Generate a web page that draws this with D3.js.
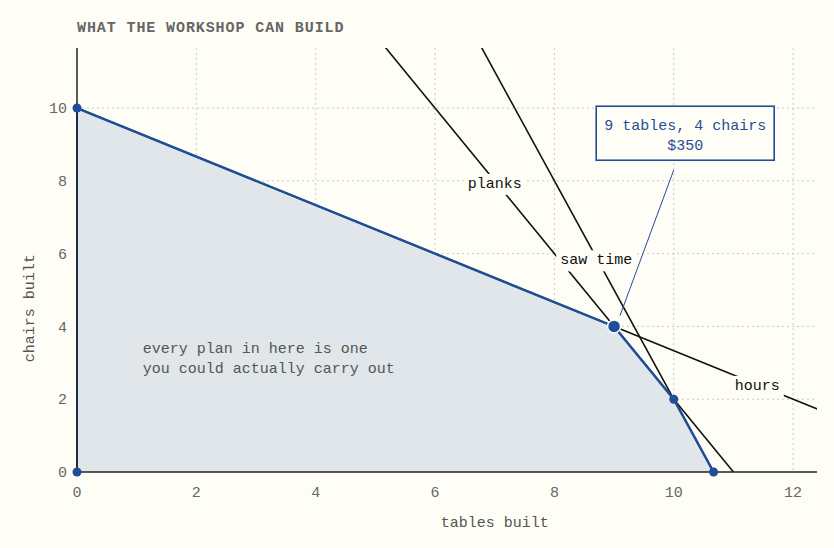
<!DOCTYPE html>
<html lang="en">
<head>
<meta charset="UTF-8">
<script src="https://d3js.org/d3.v7.min.js"></script>
<style>
  body { margin: 0; background: #fffef6; }
  svg { font-family: "Liberation Mono", "DejaVu Sans Mono", monospace; }
</style>
</head>
<body>
<svg width="834" height="548"></svg>
<script>
// feasible region corners
const regionX = [0, 0, 9, 10, 10.667];
const regionY = [0, 10, 4, 2, 0];
// constraint lines: a*x + b*y = c
const constraintNames = ["planks", "saw time", "hours"];
const constraintA = [2, 3, 2];
const constraintB = [1, 1, 3];
const constraintC = [22, 32, 30];
const labelX = [7.0, 8.7, 11.4];
const labelY = [7.95, 5.85, 2.4];
const xTicks = [0, 2, 4, 6, 8, 10, 12];
const yTicks = [0, 2, 4, 6, 8, 10];

const margin = { top: 48, right: 17, bottom: 76, left: 77 };
const width = 834 - margin.left - margin.right;
const height = 548 - margin.top - margin.bottom;
const blue = "#1f4e99";
const fs = 15;

const svg = d3.select("svg");
const g = svg.append("g").attr("transform", `translate(${margin.left},${margin.top})`);
const x = d3.scaleLinear().domain([0, 12.4]).range([0, width]);
const y = d3.scaleLinear().domain([0, 11.65]).range([height, 0]);

svg.append("defs").append("clipPath").attr("id", "clip")
  .append("rect").attr("width", width).attr("height", height);

// grid
g.selectAll(".gx").data(xTicks.slice(1)).join("line")
  .attr("x1", d => x(d)).attr("x2", d => x(d)).attr("y1", 0).attr("y2", height)
  .attr("stroke", "#c8c8c8").attr("stroke-dasharray", "2,3");
g.selectAll(".gy").data(yTicks.slice(1)).join("line")
  .attr("y1", d => y(d)).attr("y2", d => y(d)).attr("x1", 0).attr("x2", width)
  .attr("stroke", "#c8c8c8").attr("stroke-dasharray", "2,3");

// region
const pts = regionX.map((v, i) => [x(v), y(regionY[i])]);
g.append("path").attr("d", "M" + pts.join("L") + "Z").attr("fill", "#e0e6ea");

// constraint lines
const lines = g.append("g").attr("clip-path", "url(#clip)");
constraintNames.forEach((n, i) => {
  const a = constraintA[i], b = constraintB[i], c = constraintC[i];
  lines.append("line")
    .attr("x1", x(0)).attr("y1", y(c / b))
    .attr("x2", x(14)).attr("y2", y((c - a * 14) / b))
    .attr("stroke", "#111").attr("stroke-width", 1.6);
});

// hull edge
g.append("path").attr("d", "M" + pts.slice(1).join("L"))
  .attr("fill", "none").attr("stroke", blue).attr("stroke-width", 2.5);
g.append("line").attr("x1", x(0)).attr("x2", x(0)).attr("y1", y(0)).attr("y2", y(10))
  .attr("stroke", blue).attr("stroke-width", 2);

// labels with background
constraintNames.forEach((n, i) => {
  const t = g.append("text").attr("x", x(labelX[i])).attr("y", y(labelY[i]))
    .attr("text-anchor", "middle").attr("dy", "0.35em")
    .attr("font-size", fs).attr("fill", "#111").text(n);
  const bb = t.node().getBBox();
  g.insert("rect", "text").attr("x", bb.x - 4).attr("y", bb.y - 2)
    .attr("width", bb.width + 8).attr("height", bb.height + 4).attr("fill", "#fffef6");
});

// axes
g.append("line").attr("x1", 0).attr("x2", width).attr("y1", height).attr("y2", height)
  .attr("stroke", "#222").attr("stroke-width", 1.5);
g.append("line").attr("x1", 0).attr("x2", 0).attr("y1", 0).attr("y2", height)
  .attr("stroke", "#222").attr("stroke-width", 1.5);
g.selectAll(".xt").data(xTicks).join("text")
  .attr("x", d => x(d)).attr("y", height + 25).attr("text-anchor", "middle")
  .attr("font-size", fs).attr("fill", "#666").text(d => d);
g.selectAll(".yt").data(yTicks).join("text")
  .attr("x", -10).attr("y", d => y(d)).attr("dy", "0.35em").attr("text-anchor", "end")
  .attr("font-size", fs).attr("fill", "#666").text(d => d);

// points
g.selectAll(".pt").data(regionX).join("circle")
  .attr("cx", d => x(d)).attr("cy", (d, i) => y(regionY[i]))
  .attr("r", (d, i) => i === 2 ? 6.5 : 4.5)
  .attr("fill", blue).attr("stroke", (d, i) => i === 2 ? "#fff" : "none").attr("stroke-width", 1.5);

// annotation
g.append("line").attr("x1", x(10)).attr("y1", y(8.3)).attr("x2", x(9.1)).attr("y2", y(4.3))
  .attr("stroke", blue).attr("stroke-width", 1);
g.append("rect").attr("x", x(8.7)).attr("y", y(10.05)).attr("width", 178).attr("height", 54)
  .attr("fill", "#fffef6").attr("stroke", blue).attr("stroke-width", 1.6);
g.append("text").attr("x", x(8.7) + 89).attr("y", y(10.05) + 24).attr("text-anchor", "middle")
  .attr("font-size", fs).attr("fill", blue).text("9 tables, 4 chairs");
g.append("text").attr("x", x(8.7) + 89).attr("y", y(10.05) + 44).attr("text-anchor", "middle")
  .attr("font-size", fs).attr("fill", blue).text("$350");

g.append("text").attr("x", x(1.1)).attr("y", y(3.28)).attr("font-size", fs).attr("fill", "#555")
  .selectAll("tspan").data(["every plan in here is one", "you could actually carry out"]).join("tspan")
  .attr("x", x(1.1)).attr("dy", (d, i) => i ? 20 : 0).text(d => d);

// titles
svg.append("text").attr("x", 77).attr("y", 32).attr("font-size", fs).attr("font-weight", "bold")
  .attr("fill", "#666").attr("letter-spacing", 0.9).text("WHAT THE WORKSHOP CAN BUILD");
svg.append("text").attr("x", margin.left + x(7)).attr("y", 527).attr("text-anchor", "middle")
  .attr("font-size", fs).attr("fill", "#555").text("tables built");
svg.append("text").attr("transform", `translate(34,${margin.top + y(4.5)}) rotate(-90)`)
  .attr("text-anchor", "middle").attr("font-size", fs).attr("fill", "#555").text("chairs built");
</script>
</body>
</html>
